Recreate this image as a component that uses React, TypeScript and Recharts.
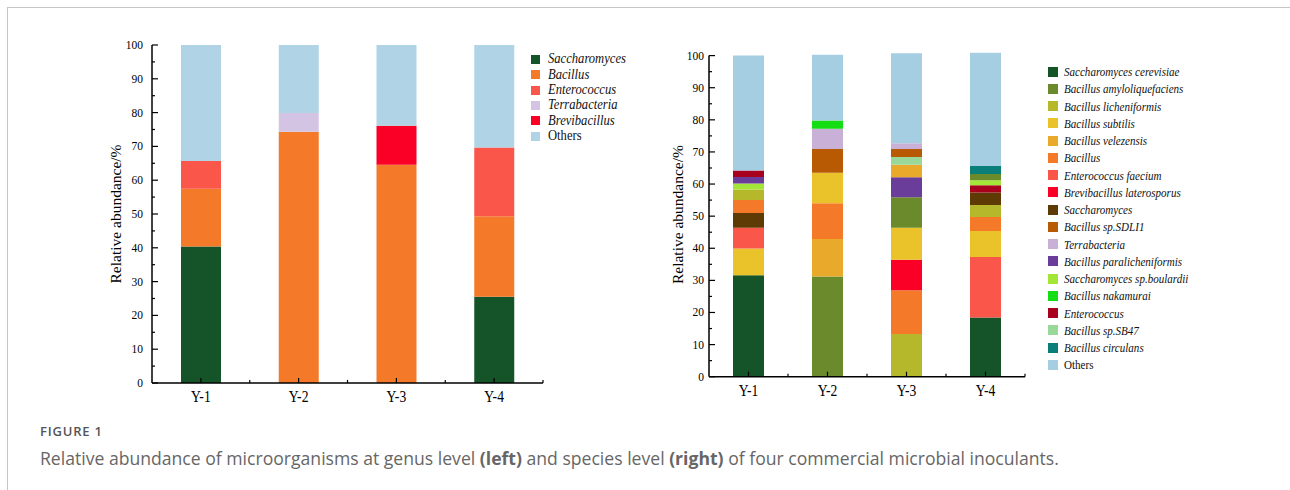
import { BarChart, Bar, XAxis, YAxis, Legend, Cell, Label } from 'recharts';

const SERIF = "'Liberation Serif', 'Times New Roman', Times, serif";

const samples = ['Y-1', 'Y-2', 'Y-3', 'Y-4'];
const yTicks = [0, 5, 10, 15, 20, 25, 30, 35, 40, 45, 50, 55, 60, 65, 70, 75, 80, 85, 90, 95, 100];

// genus level (left)
const genusNames = ['Saccharomyces', 'Bacillus', 'Enterococcus', 'Terrabacteria', 'Brevibacillus', 'Others'];
const saccharomycesGenus = [40.4, 0, 0, 25.5];
const bacillusGenus = [17.1, 74.3, 64.6, 23.8];
const enterococcusGenus = [8.2, 0, 0, 20.4];
const terrabacteriaGenus = [0, 5.6, 0, 0];
const brevibacillusGenus = [0, 0, 11.5, 0];
const othersGenus = [34.3, 20.1, 23.9, 30.3];

const genusColors: Record<string, string> = {
  Saccharomyces: '#155429',
  Bacillus: '#f47a2a',
  Enterococcus: '#fa564a',
  Terrabacteria: '#d3c4e4',
  Brevibacillus: '#fa0026',
  Others: '#b0d4e6',
};

// species level (right), each sample listed bottom -> top as stacked in the figure
const y1Species: [string, number][] = [
  ['Saccharomyces cerevisiae', 31.6], ['Bacillus subtilis', 8.3], ['Enterococcus faecium', 6.5],
  ['Saccharomyces', 4.6], ['Bacillus', 4.0], ['Bacillus licheniformis', 3.3],
  ['Saccharomyces sp.boulardii', 1.9], ['Bacillus paralicheniformis', 2.0], ['Enterococcus', 2.0],
  ['Others', 35.8],
];
const y2Species: [string, number][] = [
  ['Bacillus amyloliquefaciens', 31.2], ['Bacillus velezensis', 11.7], ['Bacillus', 11.1],
  ['Bacillus subtilis', 9.5], ['Bacillus sp.SDLI1', 7.4], ['Terrabacteria', 6.3],
  ['Bacillus nakamurai', 2.6], ['Others', 20.5],
];
const y3Species: [string, number][] = [
  ['Bacillus licheniformis', 13.3], ['Bacillus', 13.6], ['Brevibacillus laterosporus', 9.5],
  ['Bacillus subtilis', 10.0], ['Bacillus amyloliquefaciens', 9.5], ['Bacillus paralicheniformis', 6.2],
  ['Bacillus velezensis', 3.9], ['Bacillus sp.SB47', 2.4], ['Bacillus sp.SDLI1', 2.5],
  ['Terrabacteria', 1.8], ['Others', 28.0],
];
const y4Species: [string, number][] = [
  ['Saccharomyces cerevisiae', 18.4], ['Enterococcus faecium', 18.9], ['Bacillus subtilis', 8.1],
  ['Bacillus', 4.3], ['Bacillus licheniformis', 3.8], ['Saccharomyces', 3.9],
  ['Enterococcus', 2.2], ['Saccharomyces sp.boulardii', 1.6], ['Bacillus amyloliquefaciens', 1.9],
  ['Bacillus circulans', 2.5], ['Others', 35.4],
];

const speciesLegend = [
  'Saccharomyces cerevisiae', 'Bacillus amyloliquefaciens', 'Bacillus licheniformis', 'Bacillus subtilis',
  'Bacillus velezensis', 'Bacillus', 'Enterococcus faecium', 'Brevibacillus laterosporus', 'Saccharomyces',
  'Bacillus sp.SDLI1', 'Terrabacteria', 'Bacillus paralicheniformis', 'Saccharomyces sp.boulardii',
  'Bacillus nakamurai', 'Enterococcus', 'Bacillus sp.SB47', 'Bacillus circulans', 'Others',
];

const speciesColors: Record<string, string> = {
  'Saccharomyces cerevisiae': '#155429',
  'Bacillus amyloliquefaciens': '#6b8a2b',
  'Bacillus licheniformis': '#b5b82a',
  'Bacillus subtilis': '#eac22a',
  'Bacillus velezensis': '#e9a92a',
  Bacillus: '#f47a2a',
  'Enterococcus faecium': '#fa564a',
  'Brevibacillus laterosporus': '#fa0026',
  Saccharomyces: '#5e3a05',
  'Bacillus sp.SDLI1': '#b85a04',
  Terrabacteria: '#c9b0d6',
  'Bacillus paralicheniformis': '#6a3d9a',
  'Saccharomyces sp.boulardii': '#a3e637',
  'Bacillus nakamurai': '#14dd14',
  Enterococcus: '#a8011e',
  'Bacillus sp.SB47': '#9ad89a',
  'Bacillus circulans': '#0a7f7a',
  Others: '#a6cee3',
};

const genusValues = [saccharomycesGenus, bacillusGenus, enterococcusGenus, terrabacteriaGenus, brevibacillusGenus, othersGenus];
const genusRows = samples.map((s, i) => {
  const row: Record<string, any> = { sample: s };
  genusNames.forEach((g, k) => { row[g] = genusValues[k][i]; });
  return row;
});

const speciesBySample = [y1Species, y2Species, y3Species, y4Species];
const layerCount = Math.max(...speciesBySample.map((s) => s.length));
const layerKeys = Array.from({ length: layerCount }, (_, k) => 'l' + k);
const speciesRows = samples.map((s, i) => {
  const row: Record<string, any> = { sample: s };
  speciesBySample[i].forEach(([name, v], k) => {
    row['l' + k] = v;
    row['n' + k] = name;
  });
  return row;
});

function YTick(props: any) {
  const { x, y, payload, gap } = props;
  const v = payload.value;
  const major = v % 10 === 0;
  return (
    <g>
      <line x1={x} x2={x + (major ? 6 : 3)} y1={y} y2={y} stroke="#000" strokeWidth={1.2} />
      {major && (
        <text x={x - gap} y={y} textAnchor="end" dominantBaseline="central" fontSize={11.5} fontFamily={SERIF} fill="#000">
          {v}
        </text>
      )}
    </g>
  );
}

function XTick(props: any) {
  const { x, y, payload } = props;
  const half = payload.offset ?? 0;
  return (
    <g>
      <line x1={x} x2={x} y1={y} y2={y - 5} stroke="#000" strokeWidth={1.2} />
      <line x1={x + half} x2={x + half} y1={y} y2={y - 3} stroke="#000" strokeWidth={1.2} />
      <text
        transform={`translate(${x},${y + 14}) scale(0.85,1)`}
        textAnchor="middle"
        dominantBaseline="central"
        fontSize={16}
        fontFamily={SERIF}
        fill="#000"
      >
        {payload.value}
      </text>
    </g>
  );
}

function LegendList({ items, colors, rowH, box, gap, fontSize, squeeze }: any) {
  return (
    <div style={{ fontFamily: SERIF, color: '#111' }}>
      {items.map((name: string) => (
        <div key={name} style={{ display: 'flex', alignItems: 'center', height: rowH }}>
          <span style={{ width: box, height: box, background: colors[name], flex: 'none' }} />
          <span
            style={{
              marginLeft: gap,
              fontSize,
              lineHeight: 1,
              whiteSpace: 'nowrap',
              fontStyle: name === 'Others' ? 'normal' : 'italic',
              display: 'inline-block',
              transform: `scaleX(${squeeze})`,
              transformOrigin: 'left center',
            }}
          >
            {name}
          </span>
        </div>
      ))}
    </div>
  );
}

const axisLine = { stroke: '#000', strokeWidth: 1.5 };
// right panel: domain runs to 101 so the stacks that overshoot 100 are drawn; the axis line stops at 100
const rightAxisLine = { stroke: '#000', strokeWidth: 1.5, strokeDasharray: '0 3.2 1000' };
const titleStyle = { fontFamily: SERIF, fontSize: 15.5, fill: '#000', textAnchor: 'middle' as const };

export default function App() {
  return (
    <div style={{ position: 'absolute', left: 0, top: 0, width: 1290, height: 490, background: '#fff', overflow: 'hidden' }}>
      <div style={{ position: 'absolute', left: 7, top: 7, right: 0, bottom: 0, borderTop: '1px solid #c6c6c6', borderLeft: '1px solid #c6c6c6' }} />

      <div style={{ position: 'absolute', left: 0, top: 0 }}>
        <BarChart width={640} height={420} data={genusRows} margin={{ top: 45, right: 97, bottom: 7, left: 78 }}>
          <XAxis dataKey="sample" tickLine={false} tickSize={0} tickMargin={0} interval={0} axisLine={axisLine} height={30} tick={<XTick />} />
          <YAxis
            type="number"
            domain={[0, 100]}
            ticks={yTicks}
            interval={0}
            allowDataOverflow
            width={74}
            tickLine={false}
            tickSize={0}
            tickMargin={0}
            axisLine={axisLine}
            tick={<YTick gap={9} />}
          >
            <Label value="Relative abundance/%" angle={-90} position="center" style={titleStyle} />
          </YAxis>
          {genusNames.map((g) => (
            <Bar key={g} dataKey={g} stackId="a" fill={genusColors[g]} barSize={40} isAnimationActive={false} />
          ))}
          <Legend
            layout="horizontal"
            verticalAlign="middle"
            align="center"
            wrapperStyle={{ left: 531, top: 51.6, width: 130 }}
            content={() => (
              <LegendList items={genusNames} colors={genusColors} rowH={15.4} box={9} gap={8} fontSize={14} squeeze={0.9} />
            )}
          />
        </BarChart>
      </div>

      <div style={{ position: 'absolute', left: 640, top: 0 }}>
        <BarChart width={650} height={420} data={speciesRows} margin={{ top: 52.4, right: 265, bottom: 13.3, left: 7 }}>
          <XAxis dataKey="sample" tickLine={false} tickSize={0} tickMargin={0} interval={0} axisLine={axisLine} height={30} tick={<XTick />} />
          <YAxis
            type="number"
            domain={[0, 101]}
            ticks={yTicks}
            interval={0}
            allowDataOverflow
            width={62}
            tickLine={false}
            tickSize={0}
            tickMargin={0}
            axisLine={rightAxisLine}
            tick={<YTick gap={5} />}
          >
            <Label value="Relative abundance/%" angle={-90} position="center" style={titleStyle} />
          </YAxis>
          {layerKeys.map((key, k) => (
            <Bar key={key} dataKey={key} stackId="s" barSize={31} isAnimationActive={false}>
              {speciesRows.map((row) => (
                <Cell key={row.sample} fill={speciesColors[row['n' + k]] ?? 'transparent'} />
              ))}
            </Bar>
          ))}
          <Legend
            layout="horizontal"
            verticalAlign="middle"
            align="center"
            wrapperStyle={{ left: 408, top: 63.1, width: 220 }}
            content={() => (
              <LegendList items={speciesLegend} colors={speciesColors} rowH={17.26} box={10} gap={6} fontSize={13} squeeze={0.85} />
            )}
          />
        </BarChart>
      </div>

      <div style={{ position: 'absolute', left: 40, top: 423, fontFamily: "'Open Sans', sans-serif", fontSize: 13, fontWeight: 600, letterSpacing: 0.8, color: '#555', lineHeight: '16px' }}>
        FIGURE 1
      </div>
      <div style={{ position: 'absolute', left: 40, top: 447, fontFamily: "'Open Sans', sans-serif", fontSize: 17.6, color: '#666', lineHeight: '22px', whiteSpace: 'nowrap' }}>
        Relative abundance of microorganisms at genus level <b>(left)</b> and species level <b>(right)</b> of four commercial microbial inoculants.
      </div>
    </div>
  );
}
